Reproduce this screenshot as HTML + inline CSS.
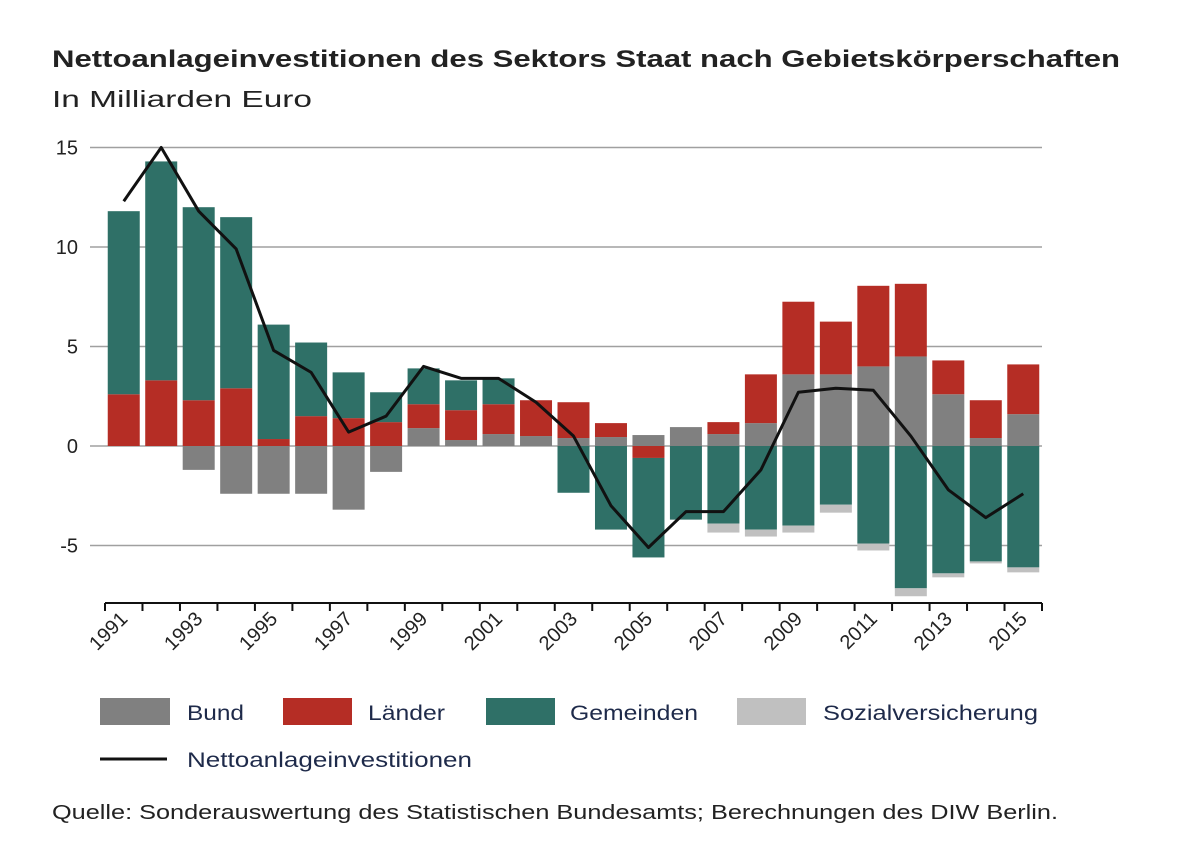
<!DOCTYPE html>
<html><head><meta charset="utf-8"><style>
body{margin:0;background:#fff;}
svg text{font-family:"Liberation Sans",sans-serif;}
</style></head><body>
<svg id="chart" width="1200" height="857" xmlns="http://www.w3.org/2000/svg">
<text x="52" y="67" font-size="24" font-weight="bold" fill="#222" textLength="1068" lengthAdjust="spacingAndGlyphs">Nettoanlageinvestitionen des Sektors Staat nach Gebietskörperschaften</text>
<text x="52" y="107" font-size="23" fill="#222" textLength="260" lengthAdjust="spacingAndGlyphs">In Milliarden Euro</text>
<g id="grid"></g><g id="bars"></g><g id="line"></g><g id="axis"></g>
<g>
<rect x="100" y="698" width="70" height="27" fill="#808080"/>
<text x="187" y="720" font-size="21" fill="#1e2a4a" textLength="57" lengthAdjust="spacingAndGlyphs">Bund</text>
<rect x="283" y="698" width="69" height="27" fill="#b52d25"/>
<text x="368" y="720" font-size="21" fill="#1e2a4a" textLength="77" lengthAdjust="spacingAndGlyphs">Länder</text>
<rect x="486" y="698" width="69" height="27" fill="#2f7067"/>
<text x="570" y="720" font-size="21" fill="#1e2a4a" textLength="128" lengthAdjust="spacingAndGlyphs">Gemeinden</text>
<rect x="737" y="698" width="69" height="27" fill="#c0c0c0"/>
<text x="823" y="720" font-size="21" fill="#1e2a4a" textLength="215" lengthAdjust="spacingAndGlyphs">Sozialversicherung</text>
<line x1="100" y1="759" x2="167" y2="759" stroke="#111" stroke-width="3"/>
<text x="187" y="767" font-size="21" fill="#1e2a4a" textLength="285" lengthAdjust="spacingAndGlyphs">Nettoanlageinvestitionen</text>
</g>
<text x="52" y="819" font-size="20" fill="#222" textLength="1006" lengthAdjust="spacingAndGlyphs">Quelle: Sonderauswertung des Statistischen Bundesamts; Berechnungen des DIW Berlin.</text>
</svg>
<script>
const years=[1991,1992,1993,1994,1995,1996,1997,1998,1999,2000,2001,2002,2003,2004,2005,2006,2007,2008,2009,2010,2011,2012,2013,2014,2015];
const bund=[0,0,-1.2,-2.4,-2.4,-2.4,-3.2,-1.3,0.9,0.3,0.6,0.5,0.4,0.45,0.55,0.95,0.6,1.15,3.6,3.6,4.0,4.5,2.6,0.4,1.6];
const laender=[2.6,3.3,2.3,2.9,0.35,1.5,1.4,1.2,1.2,1.5,1.5,1.8,1.8,0.7,-0.6,0,0.6,2.45,3.65,2.65,4.05,3.65,1.7,1.9,2.5];
const gemeinden=[9.2,11.0,9.7,8.6,5.75,3.7,2.3,1.5,1.8,1.5,1.3,0,-2.35,-4.2,-5.0,-3.7,-3.9,-4.2,-4.0,-2.95,-4.9,-7.15,-6.4,-5.8,-6.1];
const sozial=[0,0,0,0,0,0,0,0,0,0,0,0,0,0,0,0,-0.45,-0.35,-0.35,-0.4,-0.35,-0.4,-0.2,-0.1,-0.25];
const netto=[12.3,15,11.8,9.9,4.8,3.7,0.7,1.5,4.0,3.4,3.4,2.2,0.5,-3.0,-5.1,-3.3,-3.3,-1.2,2.7,2.9,2.8,0.5,-2.2,-3.6,-2.4];
const yTicks=[15,10,5,0,-5];
const NS="http://www.w3.org/2000/svg";
const X0=105,X1=1042,step=(X1-X0)/years.length;
function xc(i){return X0+step*(i+0.5);}
function y(v){return 446-v*19.9;}
function mk(tag,attrs,parent){const e=document.createElementNS(NS,tag);for(const k in attrs)e.setAttribute(k,attrs[k]);parent.appendChild(e);return e;}
const grid=document.getElementById('grid'),bars=document.getElementById('bars'),lineG=document.getElementById('line'),axis=document.getElementById('axis');
yTicks.forEach(t=>{
  const l=mk('line',{x1:90,x2:X1,y1:y(t),y2:y(t),stroke:'#a0a0a0','stroke-width':1.5},grid);
  
  
  const tx=mk('text',{x:78,y:y(t)+7,'font-size':20,'text-anchor':'end',fill:'#222'},grid);
  tx.textContent=t;
  
  
});
const series=[[bund,'#808080','bund'],[laender,'#b52d25','laender'],[gemeinden,'#2f7067','gemeinden'],[sozial,'#c0c0c0','sozialversicherung']];
years.forEach((yr,i)=>{
  let pos=0,neg=0;
  series.forEach(([arr,col,nm])=>{
    const v=arr[i]; if(!v) return;
    let a,b;
    if(v>0){a=pos;b=pos+v;pos=b;}else{a=neg;b=neg+v;neg=b;}
    const r=mk('rect',{x:xc(i)-16,width:32,y:Math.min(y(a),y(b)),height:Math.abs(y(a)-y(b)),fill:col},bars);
    
    
  });
});
const p=mk('polyline',{points:netto.map((v,i)=>xc(i)+','+y(v)).join(' '),fill:'none',stroke:'#111','stroke-width':3,'stroke-linejoin':'round'},lineG);


const ax=mk('line',{x1:X0,x2:X1,y1:603,y2:603,stroke:'#111','stroke-width':2},axis);


for(let k=0;k<=years.length;k++){
  const t=mk('line',{x1:X0+step*k,x2:X0+step*k,y1:603,y2:611,stroke:'#111','stroke-width':2},axis);
  
  
}
years.forEach((yr,i)=>{
  if(yr%2===0) return;
  const tx=mk('text',{x:xc(i)+5,y:620,'font-size':20,'text-anchor':'end',fill:'#222',transform:'rotate(-45 '+(xc(i)+5)+' 620)'},axis);
  tx.textContent=yr;
  
  
});
</script>
</body></html>
